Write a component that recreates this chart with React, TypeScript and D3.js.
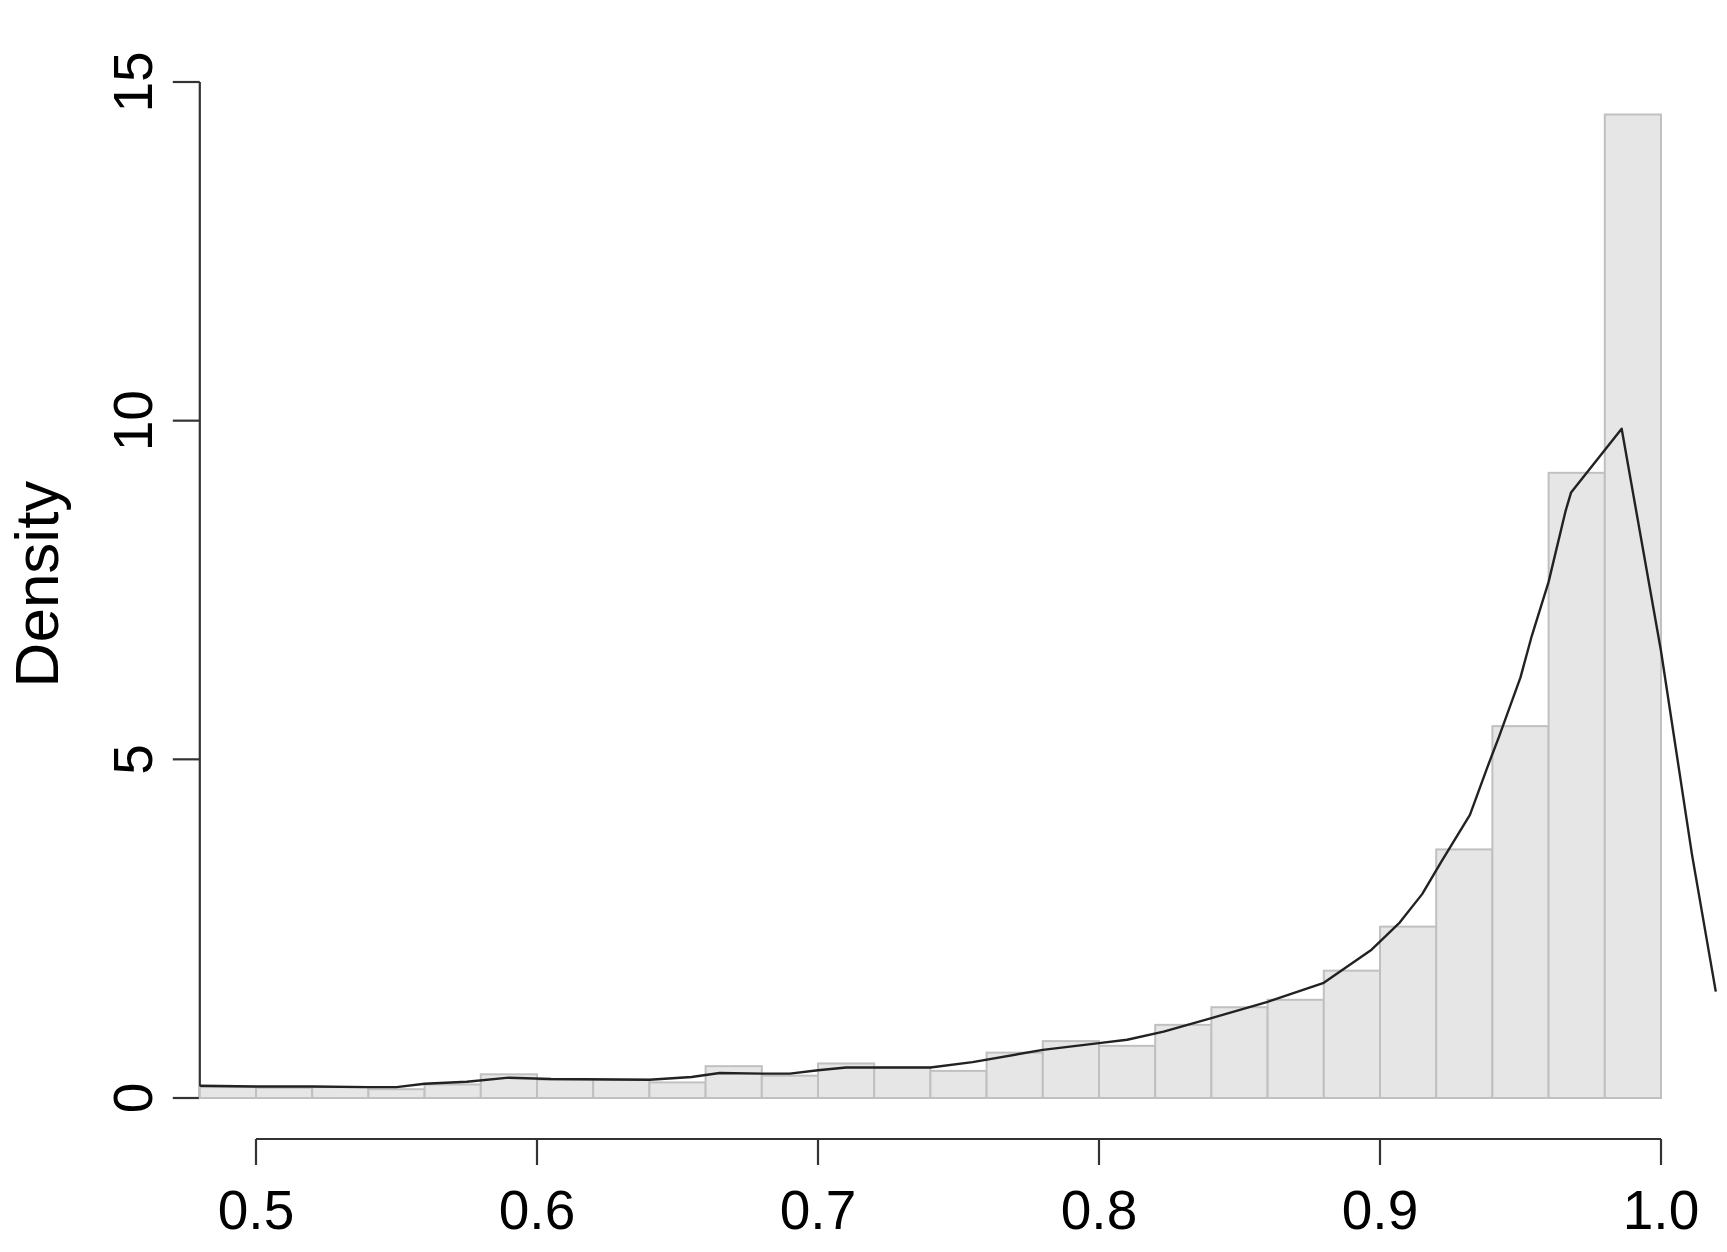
import React from "react";
import * as d3 from "d3";

const binStarts = [0.48, 0.5, 0.52, 0.54, 0.56, 0.58, 0.6, 0.62, 0.64, 0.66, 0.68, 0.7, 0.72, 0.74, 0.76, 0.78, 0.8, 0.82, 0.84, 0.86, 0.88, 0.9, 0.92, 0.94, 0.96, 0.98];
const binEnds = [0.5, 0.52, 0.54, 0.56, 0.58, 0.6, 0.62, 0.64, 0.66, 0.68, 0.7, 0.72, 0.74, 0.76, 0.78, 0.8, 0.82, 0.84, 0.86, 0.88, 0.9, 0.92, 0.94, 0.96, 0.98, 1.0];
const binDensity = [0.16, 0.15, 0.16, 0.13, 0.2, 0.35, 0.27, 0.27, 0.23, 0.47, 0.33, 0.51, 0.45, 0.4, 0.67, 0.84, 0.77, 1.08, 1.34, 1.45, 1.88, 2.53, 3.67, 5.49, 9.23, 14.52];

const densityX = [0.48, 0.5, 0.52, 0.54, 0.55, 0.56, 0.575, 0.59, 0.605, 0.64, 0.655, 0.665, 0.68, 0.69, 0.7, 0.71, 0.74, 0.755, 0.78, 0.8, 0.81, 0.823, 0.84, 0.86, 0.88, 0.897, 0.907, 0.915, 0.922, 0.932, 0.938, 0.9425, 0.95, 0.954, 0.96, 0.966, 0.968, 0.986, 1.0, 1.011, 1.0195];
const densityY = [0.18, 0.17, 0.17, 0.16, 0.16, 0.21, 0.24, 0.3, 0.28, 0.27, 0.31, 0.37, 0.36, 0.36, 0.41, 0.45, 0.45, 0.53, 0.71, 0.81, 0.86, 0.98, 1.18, 1.42, 1.7, 2.19, 2.59, 3.01, 3.5, 4.18, 4.86, 5.35, 6.21, 6.82, 7.62, 8.66, 8.94, 9.88, 6.6, 3.6, 1.57];

const xTicks = [0.5, 0.6, 0.7, 0.8, 0.9, 1.0];
const xTickLabels = ["0.5", "0.6", "0.7", "0.8", "0.9", "1.0"];
const yTicks = [0, 5, 10, 15];
const yTickLabels = ["0", "5", "10", "15"];
const yLabel = "Density";

export default function App() {
  const W = 1727;
  const H = 1252;
  const x = d3.scaleLinear().domain([0.5, 1.0]).range([256, 1661]);
  const y = d3.scaleLinear().domain([0, 15]).range([1098, 82]);
  const xAxisY = 1139;
  const yAxisX = x(0.48);
  const font = "'Liberation Sans', Arial, sans-serif";

  const line = d3
    .line<number>()
    .x((_, i) => x(densityX[i]))
    .y((d) => y(d));

  return (
    <svg
      width={W}
      height={H}
      style={{ position: "absolute", left: 0, top: 0, background: "#fff" }}
    >
      <rect x={0} y={0} width={W} height={H} fill="#fff" />
      {/* y axis */}
      <line x1={yAxisX} x2={yAxisX} y1={y(15)} y2={y(0)} stroke="#333" strokeWidth={2.2} />
      {yTicks.map((t, i) => (
        <g key={"yt" + i}>
          <line x1={yAxisX - 27} x2={yAxisX} y1={y(t)} y2={y(t)} stroke="#333" strokeWidth={2.2} />
          <text
            transform={`translate(152,${y(t)}) rotate(-90)`}
            textAnchor="middle"
            fontFamily={font}
            fontSize={55}
            fill="#000"
          >
            {yTickLabels[i]}
          </text>
        </g>
      ))}
      <text
        transform={`translate(58,584) rotate(-90)`}
        textAnchor="middle"
        fontFamily={font}
        fontSize={62}
        fill="#000"
      >
        {yLabel}
      </text>
      {/* bars */}
      {binStarts.map((s, i) => (
        <rect
          key={"b" + i}
          x={x(s)}
          y={y(binDensity[i])}
          width={x(binEnds[i]) - x(s)}
          height={y(0) - y(binDensity[i])}
          fill="#e6e6e6"
          stroke="#c0c0c0"
          strokeWidth={2}
        />
      ))}
      {/* density line */}
      <path d={line(densityY) || ""} fill="none" stroke="#222" strokeWidth={2.4} strokeLinejoin="round" />
      {/* x axis */}
      <line x1={x(0.5)} x2={x(1.0)} y1={xAxisY} y2={xAxisY} stroke="#333" strokeWidth={2.2} />
      {xTicks.map((t, i) => (
        <g key={"xt" + i}>
          <line x1={x(t)} x2={x(t)} y1={xAxisY} y2={xAxisY + 26} stroke="#333" strokeWidth={2.2} />
          <text
            x={x(t)}
            y={1229}
            textAnchor="middle"
            fontFamily={font}
            fontSize={55}
            fill="#000"
          >
            {xTickLabels[i]}
          </text>
        </g>
      ))}
    </svg>
  );
}
